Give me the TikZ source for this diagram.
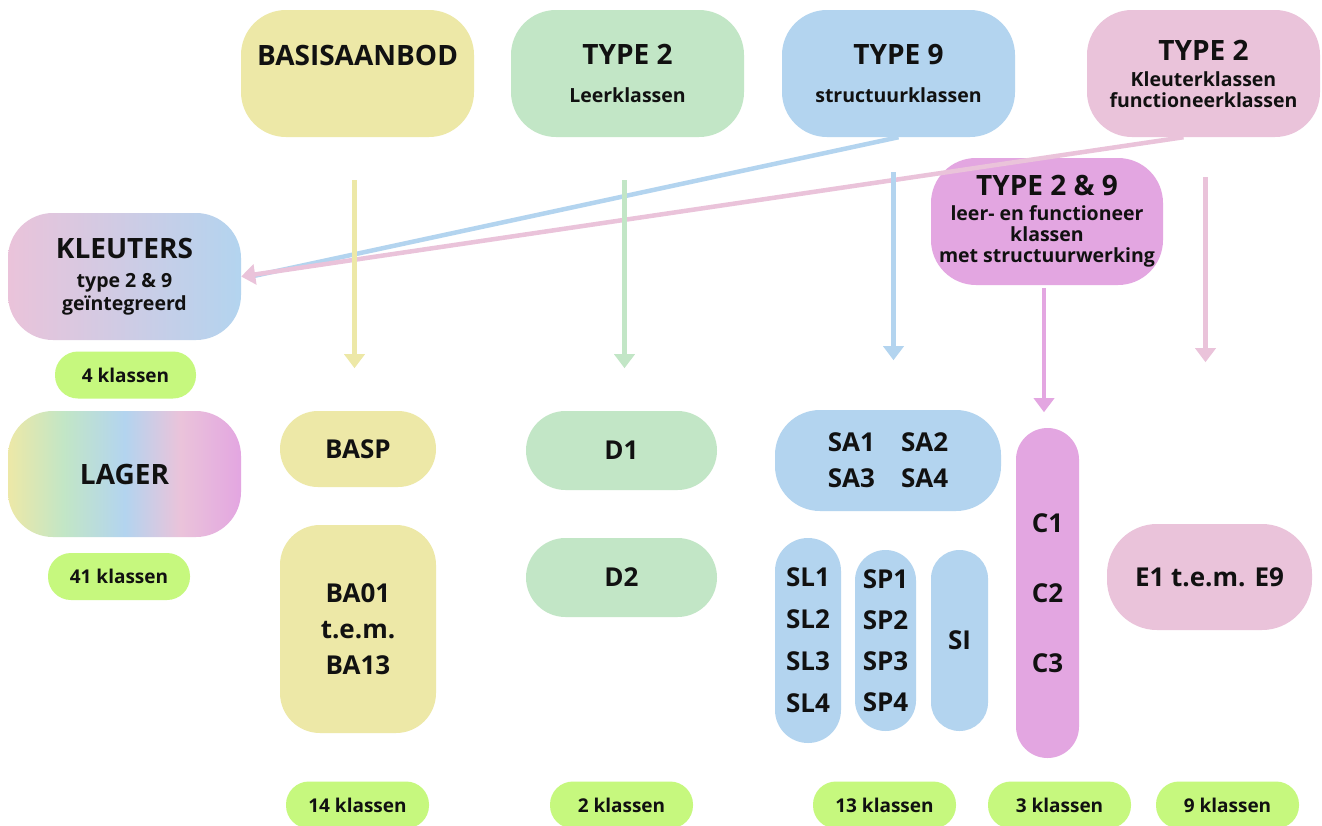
\documentclass[tikz,border=0pt]{standalone}
\usepackage{fontspec}
\setmainfont{Open Sans}
\usetikzlibrary{arrows.meta}
\definecolor{geel}{HTML}{EDE8A7}
\definecolor{groen}{HTML}{C2E6C6}
\definecolor{blauw}{HTML}{B3D4EF}
\definecolor{roze}{HTML}{EAC3DA}
\definecolor{paars}{HTML}{E3A6E1}
\definecolor{lime}{HTML}{C6F87E}
\definecolor{tekst}{HTML}{111111}
\pgfdeclarehorizontalshading{regenboog}{100bp}{color(0bp)=(geel); color(25bp)=(geel); color(37bp)=(groen); color(50bp)=(blauw); color(62bp)=(roze); color(75bp)=(paars); color(100bp)=(paars)}
\newcommand\fkop{\fontsize{28}{21}\selectfont}
\newcommand\fsub{\fontsize{19.5}{21}\selectfont}
\newcommand\fitem{\fontsize{26}{36}\selectfont}
\newcommand\fpil{\fontsize{19}{22}\selectfont}
\tikzset{
  vak/.style={rounded corners=#1, inner sep=0pt, align=center, text=tekst, font=\bfseries\fitem},
  kopvak/.style={vak=45pt, minimum width=233pt, minimum height=127pt, font=\bfseries\fkop},
  pil/.style={vak=23pt, fill=lime, minimum width=143pt, minimum height=47pt, font=\bfseries\fpil},
  lijn/.style={line width=4.5pt},
  pijl/.style={lijn, -{Triangle[width=20pt,length=14pt]}}
}

\begin{document}
\begin{tikzpicture}[x=1pt,y=-1pt]
\useasboundingbox[fill=white] (0,0) rectangle (1322,825);

% bovenste rij
\node[kopvak, fill=geel] (basis) at (357.5,73.5) {};
\node[font=\bfseries\fkop, text=tekst] (basistxt) at (357.5,55) {BASISAANBOD};
\node[kopvak, fill=groen] (t2) at (627.5,73.5) {TYPE 2\\[17pt]{\fsub Leerklassen}};
\node[kopvak, fill=blauw] (t9) at (898.5,73.5) {TYPE 9\\[17pt]{\fsub structuurklassen}};
\node[kopvak, fill=roze] (t2k) at (1203.5,73.5) {TYPE 2\\[5pt]{\fsub Kleuterklassen}\\{\fsub functioneerklassen}};
\node[kopvak, fill=paars, minimum width=232pt] (t29) at (1047,221.5) {TYPE 2 \& 9\\[4pt]{\fsub leer- en functioneer}\\{\fsub klassen}\\{\fsub met structuurwerking}};

% links
\node[kopvak, left color=roze, right color=blauw] (kleuters) at (124.5,276.5) {KLEUTERS\\[8pt]{\fsub type 2 \& 9}\\[2pt]{\fsub geïntegreerd}};
\node[pil, minimum width=141pt] (n4) at (125.5,375) {4 klassen};
\node[kopvak, shading=regenboog, minimum height=126pt] (lager) at (124.5,474) {LAGER};
\node[pil, minimum width=142pt] (n41) at (119,576.5) {41 klassen};

% klassen
\node[vak=38pt, fill=geel, minimum width=156pt, minimum height=76pt] (basp) at (358,449) {BASP};
\node[vak=40pt, fill=geel, minimum width=156pt, minimum height=208pt] (ba) at (358,629) {BA01\\t.e.m.\\BA13};
\node[vak=39.5pt, fill=groen, minimum width=191pt, minimum height=79pt] (d1) at (621.5,450.5) {D1};
\node[vak=39.5pt, fill=groen, minimum width=191pt, minimum height=79pt] (d2) at (621.5,577.5) {D2};
\node[vak=45pt, fill=blauw, minimum width=226pt, minimum height=101pt] (sa) at (888,460.5) {SA1\hspace{26pt}SA2\\SA3\hspace{26pt}SA4};
\node[vak=33pt, fill=blauw, minimum width=66pt, minimum height=205pt] (sl) at (808,640.5) {SL1\\[6pt]SL2\\[6pt]SL3\\[6pt]SL4};
\node[vak=30.5pt, fill=blauw, minimum width=61pt, minimum height=181pt] (sp) at (885.5,640.5) {SP1\\[5pt]SP2\\[5pt]SP3\\[5pt]SP4};
\node[vak=28.5pt, fill=blauw, minimum width=57pt, minimum height=181pt] (si) at (959.5,640.5) {SI};
\node[vak=31.5pt, fill=paars, minimum width=63pt, minimum height=330pt] (cc) at (1047.5,593) {C1\\[34pt]C2\\[34pt]C3};
\node[vak=50pt, fill=roze, minimum width=205pt, minimum height=106pt] (ee) at (1209.5,577) {E1 t.e.m. E9};

% aantallen
\node[pil] (n14) at (357.5,805) {14 klassen};
\node[pil] (n2) at (621.5,805) {2 klassen};
\node[pil] (n13) at (884.5,805) {13 klassen};
\node[pil] (n3) at (1059.5,805) {3 klassen};
\node[pil] (n9) at (1227.5,805) {9 klassen};

% pijlen
\draw[lijn, blauw] (t9.south) -- ([xshift=10pt]kleuters.east);
\draw[pijl, roze] ([xshift=-20pt]t2k.south) -- (kleuters.east);
\draw[pijl, geel] ([xshift=-3pt,yshift=-43pt]basis.south) -- ++(0,188);
\draw[pijl, groen] ([xshift=-3pt,yshift=-43pt]t2.south) -- ++(0,188);
\draw[pijl, blauw] ([xshift=-5pt,yshift=-35pt]t9.south) -- ++(0,188);
\draw[pijl, roze] ([xshift=2pt,yshift=-40pt]t2k.south) -- ++(0,185);
\draw[pijl, paars] ([xshift=-3pt,yshift=-3pt]t29.south) -- ++(0,124);
\end{tikzpicture}
\end{document}
